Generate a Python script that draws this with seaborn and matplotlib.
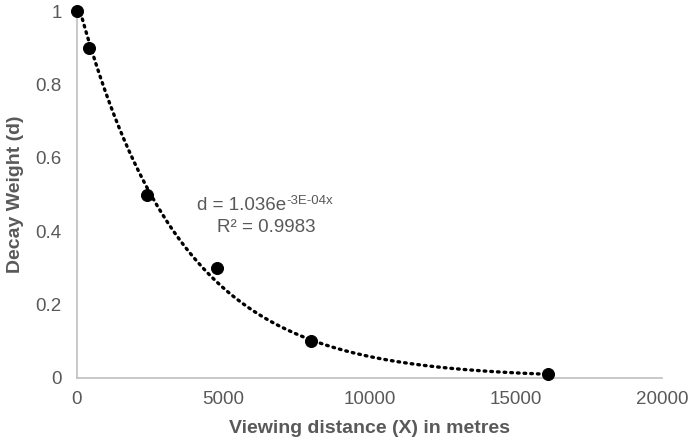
import numpy as np
import pandas as pd
import matplotlib
matplotlib.use("Agg")
import matplotlib.pyplot as plt
import seaborn as sns

# ── Data ──────────────────────────────────────────────────────────────────
distance_m = [0, 400, 2400, 4800, 8000, 16100]
decay_weight = [1.0, 0.9, 0.5, 0.3, 0.1, 0.01]
x_ticks = [0, 5000, 10000, 15000, 20000]
y_ticks = [0, 0.2, 0.4, 0.6, 0.8, 1]
y_tick_labels = ["0", "0.2", "0.4", "0.6", "0.8", "1"]

df = pd.DataFrame({"x": distance_m, "d": decay_weight})

# exponential trendline (least squares on log d, like Excel)
b, log_a = np.polyfit(df["x"], np.log(df["d"]), 1)
curve_x = np.linspace(min(distance_m), max(distance_m), 300)
trend = pd.DataFrame({"x": curve_x, "d": np.exp(log_a) * np.exp(b * curve_x)})

# ── Style ─────────────────────────────────────────────────────────────────
sns.set_style("white")
plt.rcParams["font.family"] = ["Liberation Sans", "DejaVu Sans"]
TEXT = "#595959"
AXIS = "#BFBFBF"

fig = plt.figure(figsize=(6.91, 4.44), dpi=100)
ax = fig.add_axes([77 / 691, 1 - 378 / 444, 585 / 691, 367 / 444])

sns.lineplot(data=trend, x="x", y="d", ax=ax, color="black", linewidth=2.4,
             linestyle=(0, (0.5, 1.5)), dash_capstyle="round")
sns.scatterplot(data=df, x="x", y="d", ax=ax, color="black", s=75,
                edgecolor="black", zorder=3, clip_on=False)

ax.set_xlim(0, 20000)
ax.set_ylim(0, 1)
ax.set_xticks(x_ticks)
ax.set_yticks(y_ticks)
ax.set_yticklabels(y_tick_labels)
ax.tick_params(axis="x", labelsize=13.5, colors=TEXT, length=0, pad=9)
ax.tick_params(axis="y", labelsize=13.5, colors=TEXT, length=0, pad=11)

for side in ["top", "right"]:
    ax.spines[side].set_visible(False)
for side in ["left", "bottom"]:
    ax.spines[side].set_color(AXIS)
    ax.spines[side].set_linewidth(1.2)

ax.set_xlabel("Viewing distance (X) in metres", fontsize=14, fontweight="bold",
              color=TEXT, labelpad=9)
ax.set_ylabel("Decay Weight (d)", fontsize=14, fontweight="bold",
              color=TEXT, labelpad=8)

# trendline equation with superscript exponent
base = ax.text(4100, 0.47, "d = 1.036e", fontsize=13.5, color=TEXT,
               ha="left", va="center")
fig.canvas.draw()
bb = base.get_window_extent()
x_px, y_px = bb.x1, bb.y0 + bb.height * 0.78
fig.text(x_px / fig.dpi / 6.91, y_px / fig.dpi / 4.44, "-3E-04x",
         fontsize=9.5, color=TEXT, ha="left", va="center")
ax.text(4780, 0.41, "R² = 0.9983", fontsize=13.5, color=TEXT,
        ha="left", va="center")

plt.savefig("out.png", dpi=100)
plt.close()
